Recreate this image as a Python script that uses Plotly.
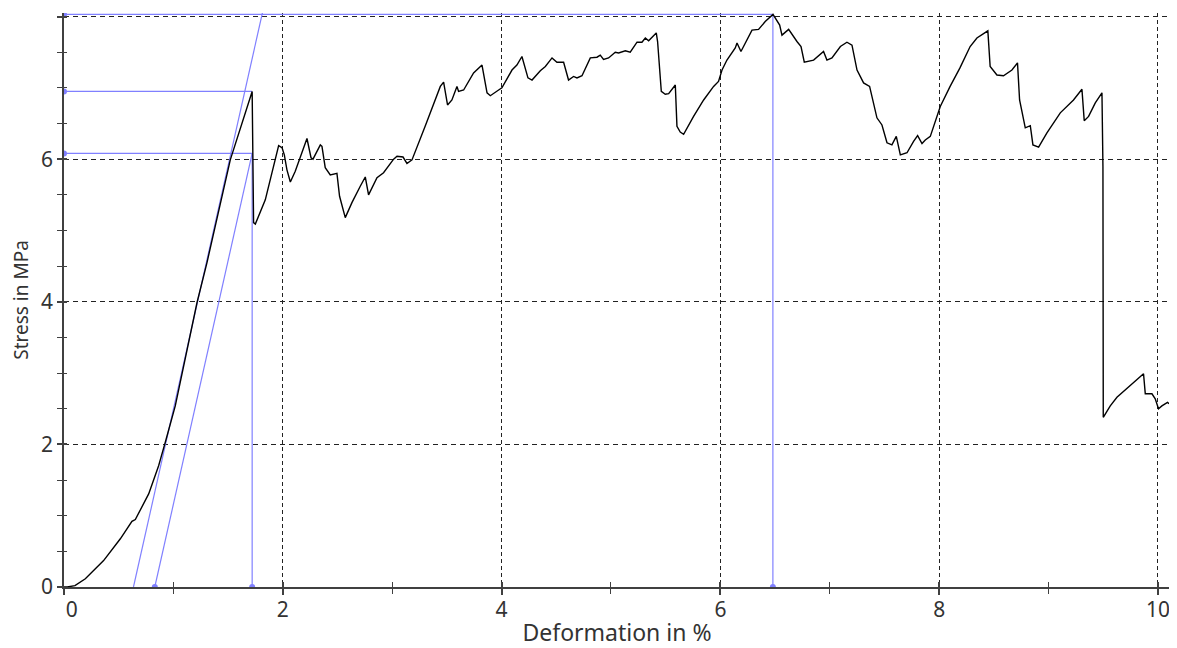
import plotly.graph_objects as go

# Stress-strain curve (Deformation in %, Stress in MPa)
deformation = [
    0, 0.03, 0.10, 0.195, 0.362, 0.515, 0.621, 0.652, 0.774, 0.865,
    0.926, 1.017, 1.216, 1.307, 1.52, 1.627, 1.72, 1.733, 1.749, 1.84,
    1.916, 1.962, 1.993, 2.014, 2.038, 2.069, 2.114, 2.16, 2.221, 2.258,
    2.276, 2.343, 2.358, 2.388, 2.434, 2.495, 2.519, 2.571, 2.632, 2.708,
    2.754, 2.784, 2.861, 2.921, 3.013, 3.044, 3.099, 3.135, 3.181, 3.303,
    3.379, 3.44, 3.47, 3.506, 3.546, 3.592, 3.607, 3.653, 3.744, 3.821,
    3.867, 3.897, 3.973, 4.003, 4.095, 4.14, 4.186, 4.241, 4.278, 4.354,
    4.40, 4.461, 4.506, 4.567, 4.612, 4.658, 4.689, 4.735, 4.811, 4.872,
    4.902, 4.932, 4.978, 5.039, 5.07, 5.131, 5.176, 5.238, 5.283, 5.314,
    5.344, 5.375, 5.414, 5.426, 5.46, 5.496, 5.527, 5.588, 5.603, 5.633,
    5.664, 5.755, 5.847, 5.938, 5.983, 6.015, 6.06, 6.136, 6.152, 6.188,
    6.258, 6.289, 6.349, 6.41, 6.481, 6.542, 6.563, 6.624, 6.70, 6.737,
    6.767, 6.852, 6.943, 6.974, 7.02, 7.097, 7.157, 7.203, 7.249, 7.309,
    7.364, 7.431, 7.477, 7.523, 7.568, 7.608, 7.645, 7.706, 7.766, 7.803,
    7.843, 7.873, 7.919, 8.01, 8.10, 8.19, 8.283, 8.345, 8.445, 8.466,
    8.528, 8.588, 8.665, 8.716, 8.735, 8.787, 8.833, 8.857, 8.909, 8.985,
    9.107, 9.228, 9.305, 9.326, 9.366, 9.427, 9.488, 9.497, 9.50, 9.564,
    9.625, 9.868, 9.884, 9.945, 9.975, 10.005, 10.036, 10.087, 10.10,
]
stress = [
    0, 0, 0.02, 0.116, 0.37, 0.676, 0.92, 0.946, 1.306, 1.70,
    2.03, 2.54, 3.99, 4.55, 5.99, 6.51, 6.95, 5.11, 5.09, 5.43,
    5.90, 6.19, 6.16, 6.06, 5.85, 5.68, 5.83, 6.02, 6.29, 6.02,
    6.00, 6.20, 6.18, 5.88, 5.78, 5.80, 5.48, 5.18, 5.39, 5.62,
    5.75, 5.50, 5.74, 5.81, 6.00, 6.04, 6.03, 5.94, 5.99, 6.47,
    6.79, 7.02, 7.08, 6.76, 6.83, 7.02, 6.95, 6.97, 7.21, 7.32,
    6.93, 6.89, 6.97, 7.00, 7.25, 7.32, 7.44, 7.14, 7.11, 7.24,
    7.30, 7.42, 7.36, 7.36, 7.11, 7.16, 7.14, 7.17, 7.42, 7.43,
    7.46, 7.40, 7.42, 7.50, 7.49, 7.52, 7.50, 7.64, 7.64, 7.70,
    7.66, 7.71, 7.77, 7.65, 6.95, 6.91, 6.92, 7.04, 6.46, 6.38,
    6.35, 6.60, 6.83, 7.02, 7.09, 7.25, 7.39, 7.56, 7.63, 7.51,
    7.72, 7.81, 7.82, 7.93, 8.03, 7.88, 7.74, 7.82, 7.65, 7.58,
    7.36, 7.39, 7.51, 7.39, 7.42, 7.58, 7.64, 7.60, 7.25, 7.07,
    7.02, 6.58, 6.48, 6.23, 6.20, 6.32, 6.06, 6.09, 6.25, 6.33,
    6.22, 6.27, 6.32, 6.74, 7.02, 7.28, 7.58, 7.70, 7.80, 7.30,
    7.18, 7.17, 7.25, 7.35, 6.83, 6.44, 6.47, 6.20, 6.17, 6.37,
    6.65, 6.83, 6.98, 6.54, 6.60, 6.79, 6.93, 5.90, 2.38, 2.54,
    2.66, 2.99, 2.71, 2.71, 2.64, 2.50, 2.54, 2.59, 2.57,
]

# Evaluation construction lines (blue)
max_stress = 8.03          # Fmax
max_strain = 6.48          # strain at Fmax
upper_yield = 6.95         # stress at first peak
first_peak_strain = 1.72
offset_yield = 6.08        # offset yield stress
modulus_x = [0.635, 1.815]  # modulus line
modulus_y = [0.0, 8.06]
offset_x = [0.83, 1.72]     # offset modulus line
offset_y = [0.0, 6.08]

marker_x = [0, 0, 0, 0.83, 1.72, 6.48]
marker_y = [8.03, 6.95, 6.08, 0, 0, 0]

x_ticks = [0, 2, 4, 6, 8, 10]
x_labels = ["\u2007\u20090", "2", "4", "6", "8", "10"]
y_ticks = [0, 2, 4, 6, 8]
y_labels = ["0", "2", "4", "6", "8"]

BLUE = "rgb(128,128,255)"
AXIS = "#404040"
FONT = "Noto Sans"

fig = go.Figure()

blue_lines = [
    ([0, max_strain], [max_stress, max_stress]),
    ([max_strain, max_strain], [0, max_stress]),
    ([0, first_peak_strain], [upper_yield, upper_yield]),
    ([0, first_peak_strain], [offset_yield, offset_yield]),
    ([first_peak_strain, first_peak_strain], [0, offset_yield]),
    (modulus_x, modulus_y),
    (offset_x, offset_y),
]
for bx, by in blue_lines:
    fig.add_trace(go.Scatter(x=bx, y=by, mode="lines",
                             line=dict(color=BLUE, width=1.2),
                             showlegend=False, hoverinfo="skip"))

fig.add_trace(go.Scatter(x=deformation, y=stress, mode="lines",
                         line=dict(color="black", width=1.4),
                         showlegend=False))

fig.add_trace(go.Scatter(x=marker_x, y=marker_y, mode="markers",
                         marker=dict(color=BLUE, size=6),
                         showlegend=False, hoverinfo="skip"))

# empty trace on overlay axes (used for the inner halves of the ticks)
fig.add_trace(go.Scatter(x=[], y=[], xaxis="x2", yaxis="y2", showlegend=False))

xr = [0, 10.11]
yr = [0, 8.05]

# page body has an 8px margin: figure is sized to fit inside the window
fig.update_layout(
    width=1169, height=640,
    margin=dict(l=56, r=7, t=5, b=57),
    paper_bgcolor="white", plot_bgcolor="white",
    font=dict(family=FONT, color="#333333"),
    showlegend=False,
    xaxis=dict(
        range=xr, tickvals=x_ticks, ticktext=x_labels,
        showline=True, linecolor=AXIS, linewidth=1.5,
        ticks="outside", ticklen=6, tickwidth=1.5, tickcolor=AXIS,
        minor=dict(ticks="outside", ticklen=5, tickwidth=1.2, tickcolor=AXIS, dtick=1, tick0=0),
        showgrid=True, gridcolor="#222222", gridwidth=1, griddash="4px,3px",
        zeroline=False, tickfont=dict(size=21), ticklabelstandoff=-3,
        title=dict(text="Deformation in %", font=dict(size=23), standoff=4),
    ),
    yaxis=dict(
        range=yr, tickvals=y_ticks, ticktext=y_labels,
        showline=True, linecolor=AXIS, linewidth=1.5,
        ticks="outside", ticklen=5, tickwidth=1.5, tickcolor=AXIS,
        minor=dict(ticks="outside", ticklen=5, tickwidth=1.2, tickcolor=AXIS, dtick=0.5, tick0=0),
        showgrid=True, gridcolor="#222222", gridwidth=1, griddash="5px,4px",
        zeroline=False, tickfont=dict(size=21),
        title=dict(text="Stress in MPa", font=dict(size=19), standoff=9),
    ),
    xaxis2=dict(
        overlaying="x", anchor="y", range=xr, showline=False, showgrid=False,
        zeroline=False, showticklabels=False, tickvals=x_ticks,
        ticks="inside", ticklen=5, tickwidth=1.5, tickcolor=AXIS,
        minor=dict(ticks="inside", ticklen=5, tickwidth=1.2, tickcolor=AXIS, dtick=1, tick0=0),
    ),
    yaxis2=dict(
        overlaying="y", anchor="x", range=yr, showline=False, showgrid=False,
        zeroline=False, showticklabels=False, tickvals=y_ticks,
        ticks="inside", ticklen=3, tickwidth=1.5, tickcolor=AXIS,
        minor=dict(ticks="inside", ticklen=3, tickwidth=1.2, tickcolor=AXIS, dtick=0.5, tick0=0),
    ),
)

fig.write_html("out.html")
